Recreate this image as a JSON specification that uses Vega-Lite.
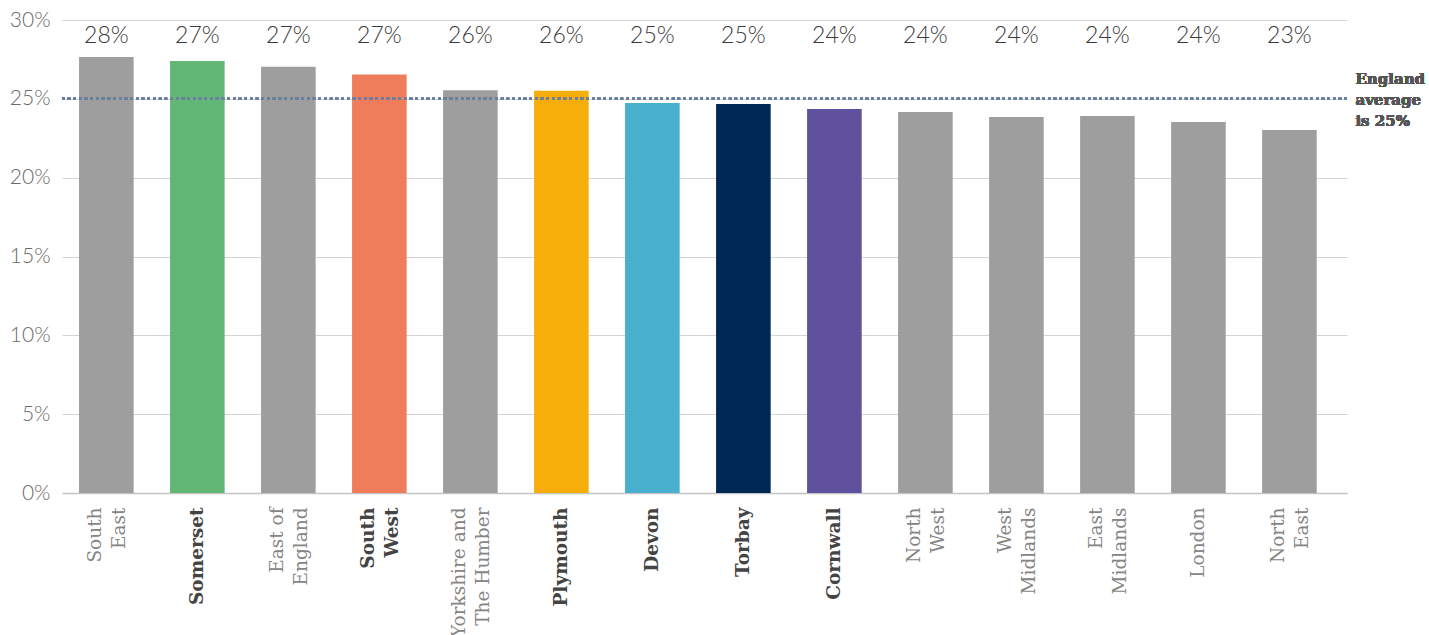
{
  "$schema": "https://vega.github.io/schema/vega-lite/v6.json",
  "width": 1285,
  "height": 473,
  "autosize": {"type": "none"},
  "padding": {"left": 62, "top": 20, "right": 82, "bottom": 142},
  "background": "white",
  "config": {
    "font": "DejaVu Serif",
    "view": {"stroke": null}
  },
  "data": {
    "values": [
      {"region": "South East", "share": 0.2765},
      {"region": "Somerset", "share": 0.274},
      {"region": "East of England", "share": 0.2703},
      {"region": "South West", "share": 0.2655},
      {"region": "Yorkshire and The Humber", "share": 0.2555},
      {"region": "Plymouth", "share": 0.2551},
      {"region": "Devon", "share": 0.2473},
      {"region": "Torbay", "share": 0.2467},
      {"region": "Cornwall", "share": 0.2436},
      {"region": "North West", "share": 0.2416},
      {"region": "West Midlands", "share": 0.2385},
      {"region": "East Midlands", "share": 0.2391},
      {"region": "London", "share": 0.2353},
      {"region": "North East", "share": 0.2302}
    ]
  },
  "layer": [
    {
      "mark": {"type": "bar"},
      "encoding": {
        "x": {
          "field": "region",
          "type": "nominal",
          "sort": null,
          "title": null,
          "scale": {"paddingInner": 0.4, "paddingOuter": 0.26, "align": 0.36},
          "axis": {
            "domainColor": "#c4c4c4",
            "domainWidth": 1.5,
            "ticks": false,
            "labelAngle": -90,
            "labelAlign": "right",
            "labelBaseline": "middle",
            "labelPadding": 14,
            "labelFontSize": 18.5,
            "labelLineHeight": 24,
            "labelLimit": 200,
            "labelOffset": {
              "condition": {"test": "indexof(datum.value, ' ') >= 0", "value": -11},
              "value": 0
            },
            "labelExpr": "datum.value === 'Yorkshire and The Humber' ? ['Yorkshire and', 'The Humber'] : datum.value === 'East of England' ? ['East of', 'England'] : split(datum.value, ' ')",
            "labelFontWeight": {
              "condition": {"test": "indexof(['Somerset', 'South West', 'Plymouth', 'Devon', 'Torbay', 'Cornwall'], datum.value) >= 0", "value": "bold"},
              "value": "normal"
            },
            "labelColor": {
              "condition": {"test": "indexof(['Somerset', 'South West', 'Plymouth', 'Devon', 'Torbay', 'Cornwall'], datum.value) >= 0", "value": "#444444"},
              "value": "#858585"
            }
          }
        },
        "y": {
          "field": "share",
          "type": "quantitative",
          "title": null,
          "scale": {"domain": [0, 0.3], "nice": false},
          "axis": {
            "values": [0, 0.05, 0.1, 0.15, 0.2, 0.25, 0.3],
            "format": ".0%",
            "domain": false,
            "ticks": false,
            "gridColor": "#d4d4d4",
            "gridWidth": 1,
            "labelFont": "Lato",
            "labelFontWeight": 300,
            "labelFontSize": 21,
            "labelColor": "#6a6a6a",
            "labelPadding": 12
          }
        },
        "color": {
          "field": "region",
          "type": "nominal",
          "legend": null,
          "scale": {
            "domain": ["South East", "Somerset", "East of England", "South West", "Yorkshire and The Humber", "Plymouth", "Devon", "Torbay", "Cornwall", "North West", "West Midlands", "East Midlands", "London", "North East"],
            "range": ["#9e9e9e", "#62b776", "#9e9e9e", "#ef7d5c", "#9e9e9e", "#f7ae0b", "#48afcf", "#002856", "#5f519d", "#9e9e9e", "#9e9e9e", "#9e9e9e", "#9e9e9e", "#9e9e9e"]
          }
        }
      }
    },
    {
      "mark": {"type": "text", "font": "Lato", "fontWeight": 300, "fontSize": 23, "color": "#3a3a3a", "baseline": "middle"},
      "encoding": {
        "x": {"field": "region", "type": "nominal", "sort": null},
        "y": {"datum": 0.29, "type": "quantitative"},
        "text": {"field": "share", "type": "quantitative", "format": ".0%"}
      }
    },
    {
      "mark": {"type": "rule", "color": "#6b7fa1", "strokeWidth": 2.5, "strokeDash": [2.5, 3.2]},
      "encoding": {
        "y": {"datum": 0.25, "type": "quantitative"}
      }
    },
    {
      "mark": {"type": "text", "align": "left", "baseline": "middle", "dx": 66, "dy": -20, "fontSize": 15, "fontWeight": "bold", "color": "#555555", "lineHeight": 21},
      "encoding": {
        "x": {"datum": "North East"},
        "y": {"datum": 0.25, "type": "quantitative"},
        "text": {"value": ["England", "average", "is 25%"]}
      }
    }
  ]
}
